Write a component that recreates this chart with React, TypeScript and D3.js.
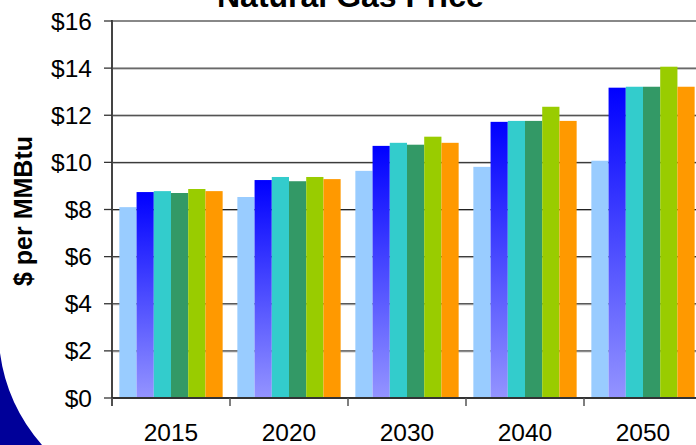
import React from "react";
import * as d3 from "d3";

const categories = ["2015", "2020", "2030", "2040", "2050"];
const seriesNames = ["s1", "s2", "s3", "s4", "s5", "s6"];
const s1 = [8.1, 8.53, 9.64, 9.81, 10.07];
const s2 = [8.74, 9.25, 10.7, 11.72, 13.17];
const s3 = [8.78, 9.38, 10.83, 11.76, 13.21];
const s4 = [8.7, 9.2, 10.75, 11.76, 13.21];
const s5 = [8.87, 9.38, 11.09, 12.36, 14.06];
const s6 = [8.78, 9.29, 10.83, 11.76, 13.21];
const seriesValues = [s1, s2, s3, s4, s5, s6];
const seriesFills = ["#99CCFF", "url(#blueGrad)", "#33CCCC", "#339966", "#99CC00", "#FF9900"];
const yTicks = [0, 2, 4, 6, 8, 10, 12, 14, 16];
const title = "Natural Gas Price";
const yLabel = "$ per MMBtu";

const W = 696;
const H = 445;

export default function App() {
  const left = 112;
  const right = 702;
  const y = d3.scaleLinear().domain([0, 16]).range([398, 21]);
  const x = d3.scaleBand<string>().domain(categories).range([left, right]).paddingInner(0).paddingOuter(0);
  const bw = x.bandwidth();
  const pad = 7.35;
  const xs = d3.scaleBand<string>().domain(seriesNames).range([pad, bw - pad]).padding(0);
  const font = "'Liberation Sans', Arial, sans-serif";

  return (
    <svg width={W} height={H} style={{ position: "absolute", left: 0, top: 0, background: "#fff" }} fontFamily={font}>
      <defs>
        <linearGradient id="blueGrad" x1="0" y1="0" x2="0" y2="1">
          <stop offset="0" stopColor="#0000FF" />
          <stop offset="1" stopColor="#9494FF" />
        </linearGradient>
      </defs>
      <rect x={0} y={0} width={W} height={H} fill="#fff" />
      <path d="M0,353 Q7,405 42,445 L0,445 Z" fill="#000099" />
      {/* gridlines */}
      {yTicks.filter((t) => t > 0 && t < 16).map((t) => (
        <g key={t}>
          <line x1={left} x2={right} y1={y(t) + 1} y2={y(t) + 1} stroke="#b0b0b0" strokeWidth={1} />
          <line x1={left} x2={right} y1={y(t)} y2={y(t)} stroke="#222" strokeWidth={1} />
        </g>
      ))}
      <line x1={left} x2={right} y1={y(16)} y2={y(16)} stroke="#888" strokeWidth={2} />
      {/* bars */}
      {categories.map((c, ci) => (
        <g key={c} transform={`translate(${x(c)},0)`}>
          {seriesNames.map((s, si) => {
            const v = seriesValues[si][ci];
            return (
              <rect
                key={s}
                x={xs(s)}
                y={y(v)}
                width={xs.bandwidth()}
                height={y(0) - y(v)}
                fill={seriesFills[si]}
              />
            );
          })}
        </g>
      ))}
      {/* y axis */}
      <line x1={left} x2={left} y1={y(16) - 1} y2={y(0) + 8} stroke="#444" strokeWidth={2} />
      {yTicks.map((t) => (
        <g key={t}>
          <line x1={104} x2={left} y1={y(t)} y2={y(t)} stroke="#333" strokeWidth={1.3} />
          <text x={92} y={y(t)} dy="0.35em" textAnchor="end" fontSize={24.5} fill="#000">
            {"$" + t}
          </text>
        </g>
      ))}
      {/* x axis */}
      <line x1={left} x2={right} y1={y(0)} y2={y(0)} stroke="#333" strokeWidth={1.8} />
      {categories.map((c) => (
        <line key={c + "t"} x1={x(c)} x2={x(c)} y1={y(0)} y2={y(0) + 8} stroke="#555" strokeWidth={1.5} />
      ))}
      {categories.map((c) => (
        <text key={c} x={(x(c) as number) + bw / 2} y={441} textAnchor="middle" fontSize={24.5} fill="#000">
          {c}
        </text>
      ))}
      {/* title */}
      <text x={217} y={7} fontSize={32} fontWeight="bold" fill="#000">
        {title}
      </text>
      {/* y label */}
      <text transform="translate(32,211) rotate(-90)" textAnchor="middle" fontSize={25} fontWeight="bold" fill="#000">
        {yLabel}
      </text>
    </svg>
  );
}
